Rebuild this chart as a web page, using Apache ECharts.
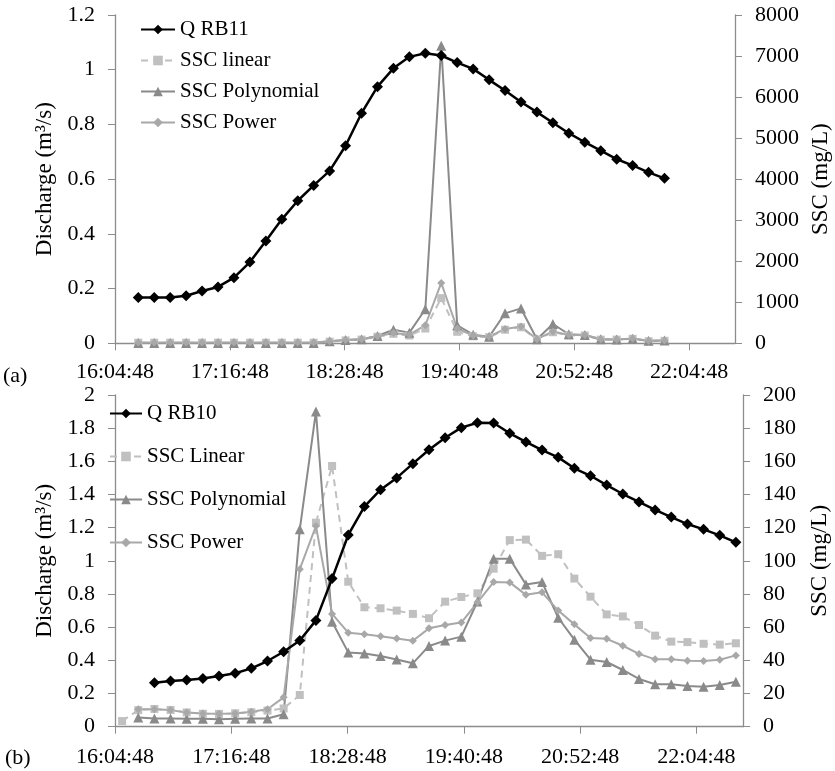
<!DOCTYPE html>
<html>
<head>
<meta charset="utf-8">
<script src="https://cdn.jsdelivr.net/npm/echarts@6/dist/echarts.min.js"></script>
<style>
html,body{margin:0;padding:0;background:#fff;}
#c{width:835px;height:771px;}
</style>
</head>
<body>
<div id="c"></div>
<script>
// ---------- data ----------
const baseTime = '16:04:48';
const stepMinutes = 10;
const xTickLabels = ['16:04:48','17:16:48','18:28:48','19:40:48','20:52:48','22:04:48'];
const xAxisEnd = '22:33:36';

// Panel (a)
const startA = '16:19:24';
const qRB11 = [0.167,0.167,0.167,0.174,0.191,0.206,0.240,0.297,0.374,0.453,0.521,0.577,0.630,0.722,0.841,0.938,1.005,1.047,1.060,1.052,1.026,1.003,0.963,0.924,0.882,0.845,0.806,0.768,0.735,0.704,0.673,0.650,0.625,0.603];
const sscLinearA = [15,15,15,15,15,15,15,15,15,15,15,15,40,70,90,160,230,190,360,1100,280,170,150,330,390,90,270,190,190,90,90,110,50,60];
const sscPolyA = [10,10,10,10,10,10,10,10,10,10,10,10,50,80,100,180,330,260,830,7250,440,210,160,730,850,100,470,220,200,100,90,110,60,70];
const sscPowerA = [20,20,20,20,20,20,20,20,20,20,20,20,50,80,100,170,250,210,440,1470,360,190,160,350,410,100,290,200,200,100,90,120,60,70];

// Panel (b)
const startQB = '16:29:12';
const startLinearB = '16:09:12';
const startPolyPowerB = '16:19:12';
const qRB10 = [0.265,0.276,0.282,0.290,0.306,0.322,0.352,0.396,0.452,0.520,0.641,0.893,1.156,1.327,1.429,1.500,1.586,1.670,1.742,1.803,1.833,1.831,1.769,1.717,1.668,1.624,1.558,1.513,1.457,1.403,1.355,1.307,1.264,1.222,1.190,1.154,1.112];
const sscLinearB = [3.4,10,10.7,10.1,8.6,7.8,7.7,8.1,8.7,9.7,11,19.1,123,157.2,87.4,72,71.4,70,68,65.4,75.4,78.2,80.4,95.3,112.5,112.8,103,104,89.3,78.4,67.7,66.5,61.3,54.9,51.3,51,50,49.5,50.3];
const sscPolyB = [5.5,5,5,4.8,4.8,4.5,4.8,5,5,7.5,119,190,63.3,44.8,44.2,42.6,40.5,38.2,48.7,51.9,54.3,75.5,101.3,101.3,85.8,87.2,65.7,52.5,40.4,39,34.2,28.8,25.6,25.6,24.5,24.1,25.1,27.1];
const sscPowerB = [10.5,10.5,10,8.5,8,7.8,8,9,10.5,17.7,95,121,68,56.7,55.8,54.5,53.2,51.8,59.3,61.3,62.8,75,87.2,87,79.5,81,70,61.7,53.5,53,48.8,43.9,40.6,40.6,39.7,39.6,40.4,43];

// ---------- helpers ----------
function toMin(t){const p=t.split(':').map(Number);return p[0]*60+p[1]+p[2]/60;}
const base = toMin(baseTime);
function rel(t){return toMin(t)-base;}
function pts(start, vals){const s=rel(start);return vals.map((v,i)=>[s+i*stepMinutes, v]);}
const tickVals = xTickLabels.map(rel);
const xMax = rel(xAxisEnd);
function fmtX(v){const i=tickVals.findIndex(t=>Math.abs(t-v)<0.01);return i>=0?xTickLabels[i]:'';}

const FONT = '"Liberation Serif","Times New Roman",serif';
const AX = '#8c8c8c';
const C_Q = '#000000', C_LIN = '#c0c0c0', C_POLY = '#8a8a8a', C_POW = '#a8a8a8';

function xAxis(gi, margin){
  return {type:'value', gridIndex:gi, min:0, max:xMax,
    axisLine:{show:true, lineStyle:{color:AX, width:1.3}},
    axisTick:{show:true, length:7, inside:false, lineStyle:{color:AX}, customValues:tickVals},
    axisLabel:{color:'#000', fontFamily:FONT, fontSize:22, margin:margin, customValues:tickVals, formatter:fmtX},
    splitLine:{show:false}};
}
function yAxis(gi, pos, max, interval, name, gap){
  return {type:'value', gridIndex:gi, position:pos, min:0, max:max, interval:interval,
    name:name, nameLocation:'middle', nameGap:gap,
    nameTextStyle:{color:'#000', fontFamily:FONT, fontSize:23},
    axisLine:{show:true, lineStyle:{color:AX, width:1.3}},
    axisTick:{show:true, length:7, inside:false, lineStyle:{color:AX}},
    axisLabel:{color:'#000', fontFamily:FONT, fontSize:22, margin:20, formatter:(v)=>String(Math.round(v*1000)/1000)},
    splitLine:{show:false}};
}
function line(name, data, xi, yi, kind){
  const s = {name:name, type:'line', data:data, xAxisIndex:xi, yAxisIndex:yi, animation:false, z:2};
  if(kind==='q'){ Object.assign(s,{symbol:'diamond', symbolSize:11, itemStyle:{color:C_Q}, lineStyle:{color:C_Q, width:2.5}, z:5}); }
  if(kind==='lin'){ Object.assign(s,{symbol:'rect', symbolSize:8, itemStyle:{color:C_LIN}, lineStyle:{color:C_LIN, width:2, type:[7,5]}}); }
  if(kind==='poly'){ Object.assign(s,{symbol:'triangle', symbolSize:10, itemStyle:{color:C_POLY}, lineStyle:{color:C_POLY, width:2}}); }
  if(kind==='pow'){ Object.assign(s,{symbol:'diamond', symbolSize:8, itemStyle:{color:C_POW}, lineStyle:{color:C_POW, width:2}}); }
  return s;
}

const chart = echarts.init(document.getElementById('c'), null, {renderer:'canvas'});
chart.setOption({
  backgroundColor:'#fff',
  animation:false,
  textStyle:{fontFamily:FONT},
  grid:[
    {left:115, right:100, top:15, height:328.3, outerBoundsMode:'none'},
    {left:115, right:92, top:395, height:331.7, outerBoundsMode:'none'}
  ],
  xAxis:[xAxis(0,18), xAxis(1,20)],
  yAxis:[
    yAxis(0,'left',1.2,0.2,'Discharge (m³/s)',53),
    yAxis(0,'right',8000,1000,'SSC (mg/L)',73),
    yAxis(1,'left',2,0.2,'Discharge (m³/s)',53),
    yAxis(1,'right',200,20,'SSC (mg/L)',65)
  ],
  legend:[
    {orient:'vertical', left:140, top:19, itemGap:10, itemWidth:34, itemHeight:12,
     textStyle:{fontFamily:FONT, fontSize:21, color:'#000'}, padding:0,
     data:['Q RB11','SSC linear','SSC Polynomial','SSC Power']},
    {orient:'vertical', left:109, top:403, itemGap:22, itemWidth:32, itemHeight:12,
     textStyle:{fontFamily:FONT, fontSize:21, color:'#000'}, padding:0,
     data:['Q RB10','SSC Linear','SSC Polynomial','SSC Power']}
  ],
  graphic:[
    {type:'text', left:3, top:365, style:{text:'(a)', font:'22px '+FONT, fill:'#000'}},
    {type:'text', left:5, top:747, style:{text:'(b)', font:'22px '+FONT, fill:'#000'}}
  ],
  series:[
    line('Q RB11', pts(startA,qRB11), 0, 0, 'q'),
    line('SSC linear', pts(startA,sscLinearA), 0, 1, 'lin'),
    line('SSC Polynomial', pts(startA,sscPolyA), 0, 1, 'poly'),
    line('SSC Power', pts(startA,sscPowerA), 0, 1, 'pow'),
    line('Q RB10', pts(startQB,qRB10), 1, 2, 'q'),
    line('SSC Linear', pts(startLinearB,sscLinearB), 1, 3, 'lin'),
    line('SSC Polynomial', pts(startPolyPowerB,sscPolyB), 1, 3, 'poly'),
    line('SSC Power', pts(startPolyPowerB,sscPowerB), 1, 3, 'pow')
  ]
});
</script>
</body>
</html>
